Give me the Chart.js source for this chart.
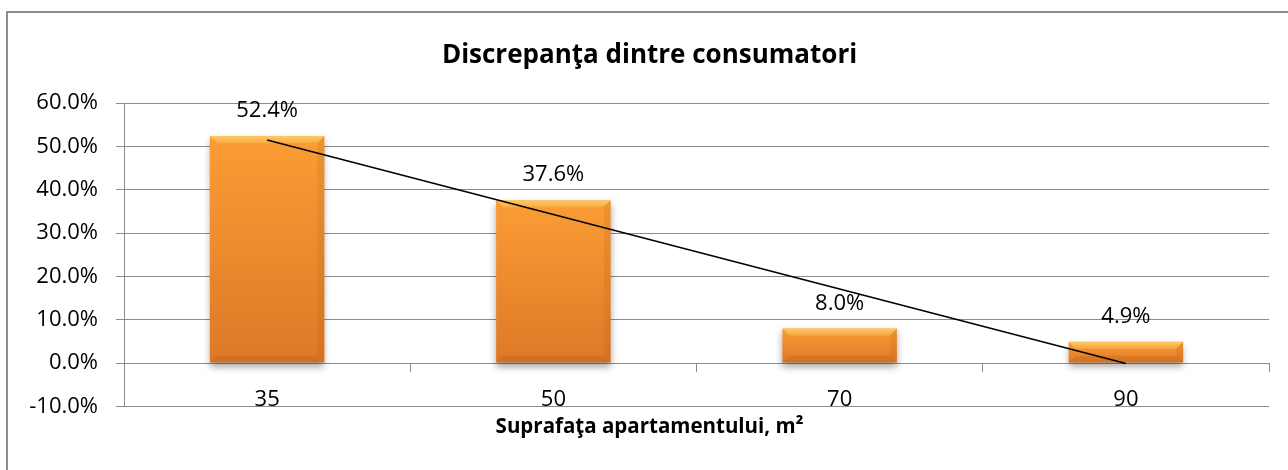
<!DOCTYPE html>
<html>
<head>
  <style>
    body {
      margin: 0;
      overflow: hidden;
      background: #fff;
    }

    .chart-container {
      position: relative;
      width: 1288px;
      height: 470px;
    }

    #frame {
      position: absolute;
      left: 6px;
      top: 11px;
      width: 1400px;
      height: 600px;
      border-left: 2px solid #8d8d8d;
      border-top: 2px solid #8d8d8d;
      pointer-events: none;
    }
  </style>
  <script src="https://cdn.jsdelivr.net/npm/chart.js"></script>
</head>
<body>
  <div class="chart-container">
    <canvas id="discrepancyChart" width="1288" height="470"></canvas>
    <div id="frame"></div>
  </div>

  <script>
    // values
    const categories = ['35', '50', '70', '90'];
    const discrepancy = [52.4, 37.6, 8.0, 4.9];
    const trend = [51.5, 34.3, 17.1, -0.1];
    const yTicks = [-10, 0, 10, 20, 30, 40, 50, 60];

    const textFont = 'Open Sans';
    const gridColor = '#8c8c8c';

    function barFill(context) {
      const chart = context.chart;
      if (!chart.chartArea) return '#f0902e';
      const yScale = chart.scales.y;
      const top = yScale.getPixelForValue(context.raw);
      const base = yScale.getPixelForValue(0);
      const g = chart.ctx.createLinearGradient(0, top, 0, base);
      g.addColorStop(0, '#fb9d35');
      g.addColorStop(1, '#de7827');
      return g;
    }

    // shadow under the bars, a soft bevel and the value labels
    const bevelPlugin = {
      id: 'bevel',
      beforeDatasetDraw(chart, args) {
        if (args.index !== 0) return;
        const ctx = chart.ctx;
        ctx.save();
        ctx.shadowColor = 'rgba(0, 0, 0, 0.35)';
        ctx.shadowBlur = 7;
        ctx.shadowOffsetY = 4;
      },
      afterDatasetDraw(chart, args) {
        if (args.index !== 0) return;
        const ctx = chart.ctx;
        ctx.restore();
        chart.getDatasetMeta(0).data.forEach(bar => {
          const p = bar.getProps(['x', 'y', 'base', 'width'], true);
          const l = p.x - p.width / 2, r = p.x + p.width / 2;
          const t = p.y, b = p.base;
          const s = Math.min(7, (b - t) / 3);
          ctx.save();
          // top
          const tg = ctx.createLinearGradient(0, t, 0, t + s);
          tg.addColorStop(0, 'rgba(255, 214, 120, 0.75)');
          tg.addColorStop(1, 'rgba(255, 214, 120, 0.25)');
          ctx.fillStyle = tg;
          ctx.beginPath();
          ctx.moveTo(l, t); ctx.lineTo(r, t); ctx.lineTo(r - s, t + s); ctx.lineTo(l + s, t + s);
          ctx.closePath(); ctx.fill();
          // bottom
          ctx.fillStyle = 'rgba(140, 60, 10, 0.14)';
          ctx.beginPath();
          ctx.moveTo(l, b); ctx.lineTo(r, b); ctx.lineTo(r - s, b - s); ctx.lineTo(l + s, b - s);
          ctx.closePath(); ctx.fill();
          // right
          ctx.fillStyle = 'rgba(140, 60, 10, 0.10)';
          ctx.beginPath();
          ctx.moveTo(r, t); ctx.lineTo(r - s, t + s); ctx.lineTo(r - s, b - s); ctx.lineTo(r, b);
          ctx.closePath(); ctx.fill();
          ctx.restore();
        });
      },
      afterDatasetsDraw(chart) {
        const ctx = chart.ctx;
        ctx.save();
        ctx.font = '22px "' + textFont + '"';
        ctx.fillStyle = '#000';
        ctx.textAlign = 'center';
        ctx.textBaseline = 'middle';
        chart.getDatasetMeta(0).data.forEach((bar, i) => {
          ctx.fillText(discrepancy[i].toFixed(1) + '%', bar.x, bar.y - 25);
        });
        ctx.restore();
      }
    };

    const config = {
      type: 'bar',
      data: {
        labels: categories,
        datasets: [{
          label: 'Discrepanţa',
          data: discrepancy,
          backgroundColor: barFill,
          borderWidth: 0,
          categoryPercentage: 1,
          barPercentage: 0.4,
          order: 1
        }, {
          type: 'line',
          label: 'Trend',
          data: trend,
          borderColor: '#000',
          borderWidth: 1.6,
          pointRadius: 0,
          tension: 0,
          fill: false,
          order: 0
        }]
      },
      options: {
        responsive: false,
        animation: false,
        layout: {
          padding: { left: 30, right: 19, top: 0, bottom: 0 }
        },
        scales: {
          x: {
            position: { y: 0 },
            offset: true,
            grid: {
              drawOnChartArea: false,
              offset: true,
              tickLength: 8,
              color: gridColor
            },
            border: { color: gridColor },
            ticks: {
              padding: 15,
              color: '#000',
              font: { family: textFont, size: 22 }
            }
          },
          y: {
            min: -10,
            max: 60,
            afterBuildTicks: scale => {
              scale.ticks = yTicks.map(v => ({ value: v }));
            },
            afterFit: scale => {
              scale.width = 94;
            },
            grid: {
              color: gridColor,
              tickLength: 8
            },
            border: { color: gridColor },
            ticks: {
              padding: 18,
              color: '#000',
              font: { family: textFont, size: 22 },
              callback: v => v.toFixed(1) + '%'
            }
          }
        },
        plugins: {
          legend: { display: false },
          tooltip: { enabled: false },
          title: {
            display: true,
            text: 'Discrepanţa dintre consumatori',
            color: '#000',
            font: { family: textFont, size: 26, weight: 'bold' },
            padding: { top: 40, bottom: 32 }
          },
          subtitle: {
            display: true,
            position: 'bottom',
            text: 'Suprafaţa apartamentului, m²',
            color: '#000',
            font: { family: textFont, size: 20.5, weight: 'bold' },
            padding: { top: 8, bottom: 31 }
          }
        }
      },
      plugins: [bevelPlugin]
    };

    const discrepancyChart = new Chart(document.getElementById('discrepancyChart'), config);
  </script>
</body>
</html>
